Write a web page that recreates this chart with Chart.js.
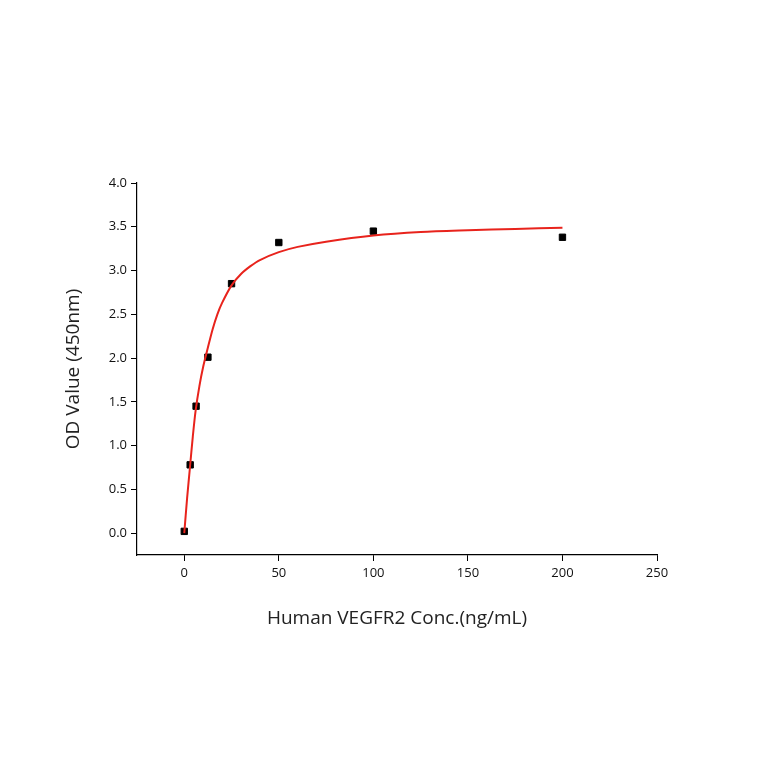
<!DOCTYPE html>
<html><head><script src="https://cdn.jsdelivr.net/npm/chart.js@4"></script>
<style>html,body{margin:0;background:#fff}#w{width:764px;height:764px}</style></head>
<body><div id="w"><canvas id="c"></canvas></div>
<script>
const conc=[0,3.125,6.25,12.5,25,50,100,200];
const od=[0.02,0.78,1.45,2.01,2.85,3.32,3.45,3.38];
const fitX=[0,1.5,3,4.5,6,8,10,12.5,15,17.5,20,25,30,35,40,50,60,75,100,125,150,175,200];
const fitY=[0,0.4,0.75,1.1,1.4,1.68,1.9,2.12,2.33,2.5,2.63,2.83,2.96,3.05,3.12,3.21,3.27,3.33,3.40,3.44,3.46,3.475,3.49];
const xTicks=[0,50,100,150,200,250];
const yTicks=[0,0.5,1,1.5,2,2.5,3,3.5,4];
const font='"Open Sans", sans-serif';
new Chart(document.getElementById('c'),{
 data:{datasets:[
  {type:'line',data:fitX.map((x,i)=>({x,y:fitY[i]})),borderColor:'#e8231c',borderWidth:2,pointRadius:0,tension:0.3},
  {type:'scatter',data:conc.map((x,i)=>({x,y:od[i]})),pointStyle:'rect',pointRadius:4.5,backgroundColor:'#000',borderColor:'#000'}
 ]},
 options:{responsive:true,maintainAspectRatio:false,animation:false,
  layout:{padding:{top:183,right:107,bottom:130,left:62}},
  plugins:{legend:{display:false},tooltip:{enabled:false}},
  scales:{
   x:{type:'linear',min:-25,max:250,afterBuildTicks:s=>{s.ticks=xTicks.map(v=>({value:v}))},
    afterFit:s=>{s.height=79},
    grid:{drawOnChartArea:false,color:'#000',tickLength:6,tickColor:'#000'},border:{color:'#000',width:1.2},
    ticks:{color:'#111',font:{family:font,size:13},padding:4},
    title:{display:true,text:'Human VEGFR2 Conc.(ng/mL)',color:'#222',font:{family:font,size:19}}},
   y:{type:'linear',min:-0.25,max:4,afterBuildTicks:s=>{s.ticks=yTicks.map(v=>({value:v}))},
    afterFit:s=>{s.width=75},
    grid:{drawOnChartArea:false,color:'#000',tickLength:6,tickColor:'#000'},border:{color:'#000',width:1.2},
    ticks:{color:'#111',font:{family:font,size:13},padding:4,callback:v=>v.toFixed(1)},
    title:{display:true,text:'OD Value (450nm)',color:'#222',font:{family:font,size:19},padding:{top:0,bottom:4}}}
  }}
});
</script></body></html>
